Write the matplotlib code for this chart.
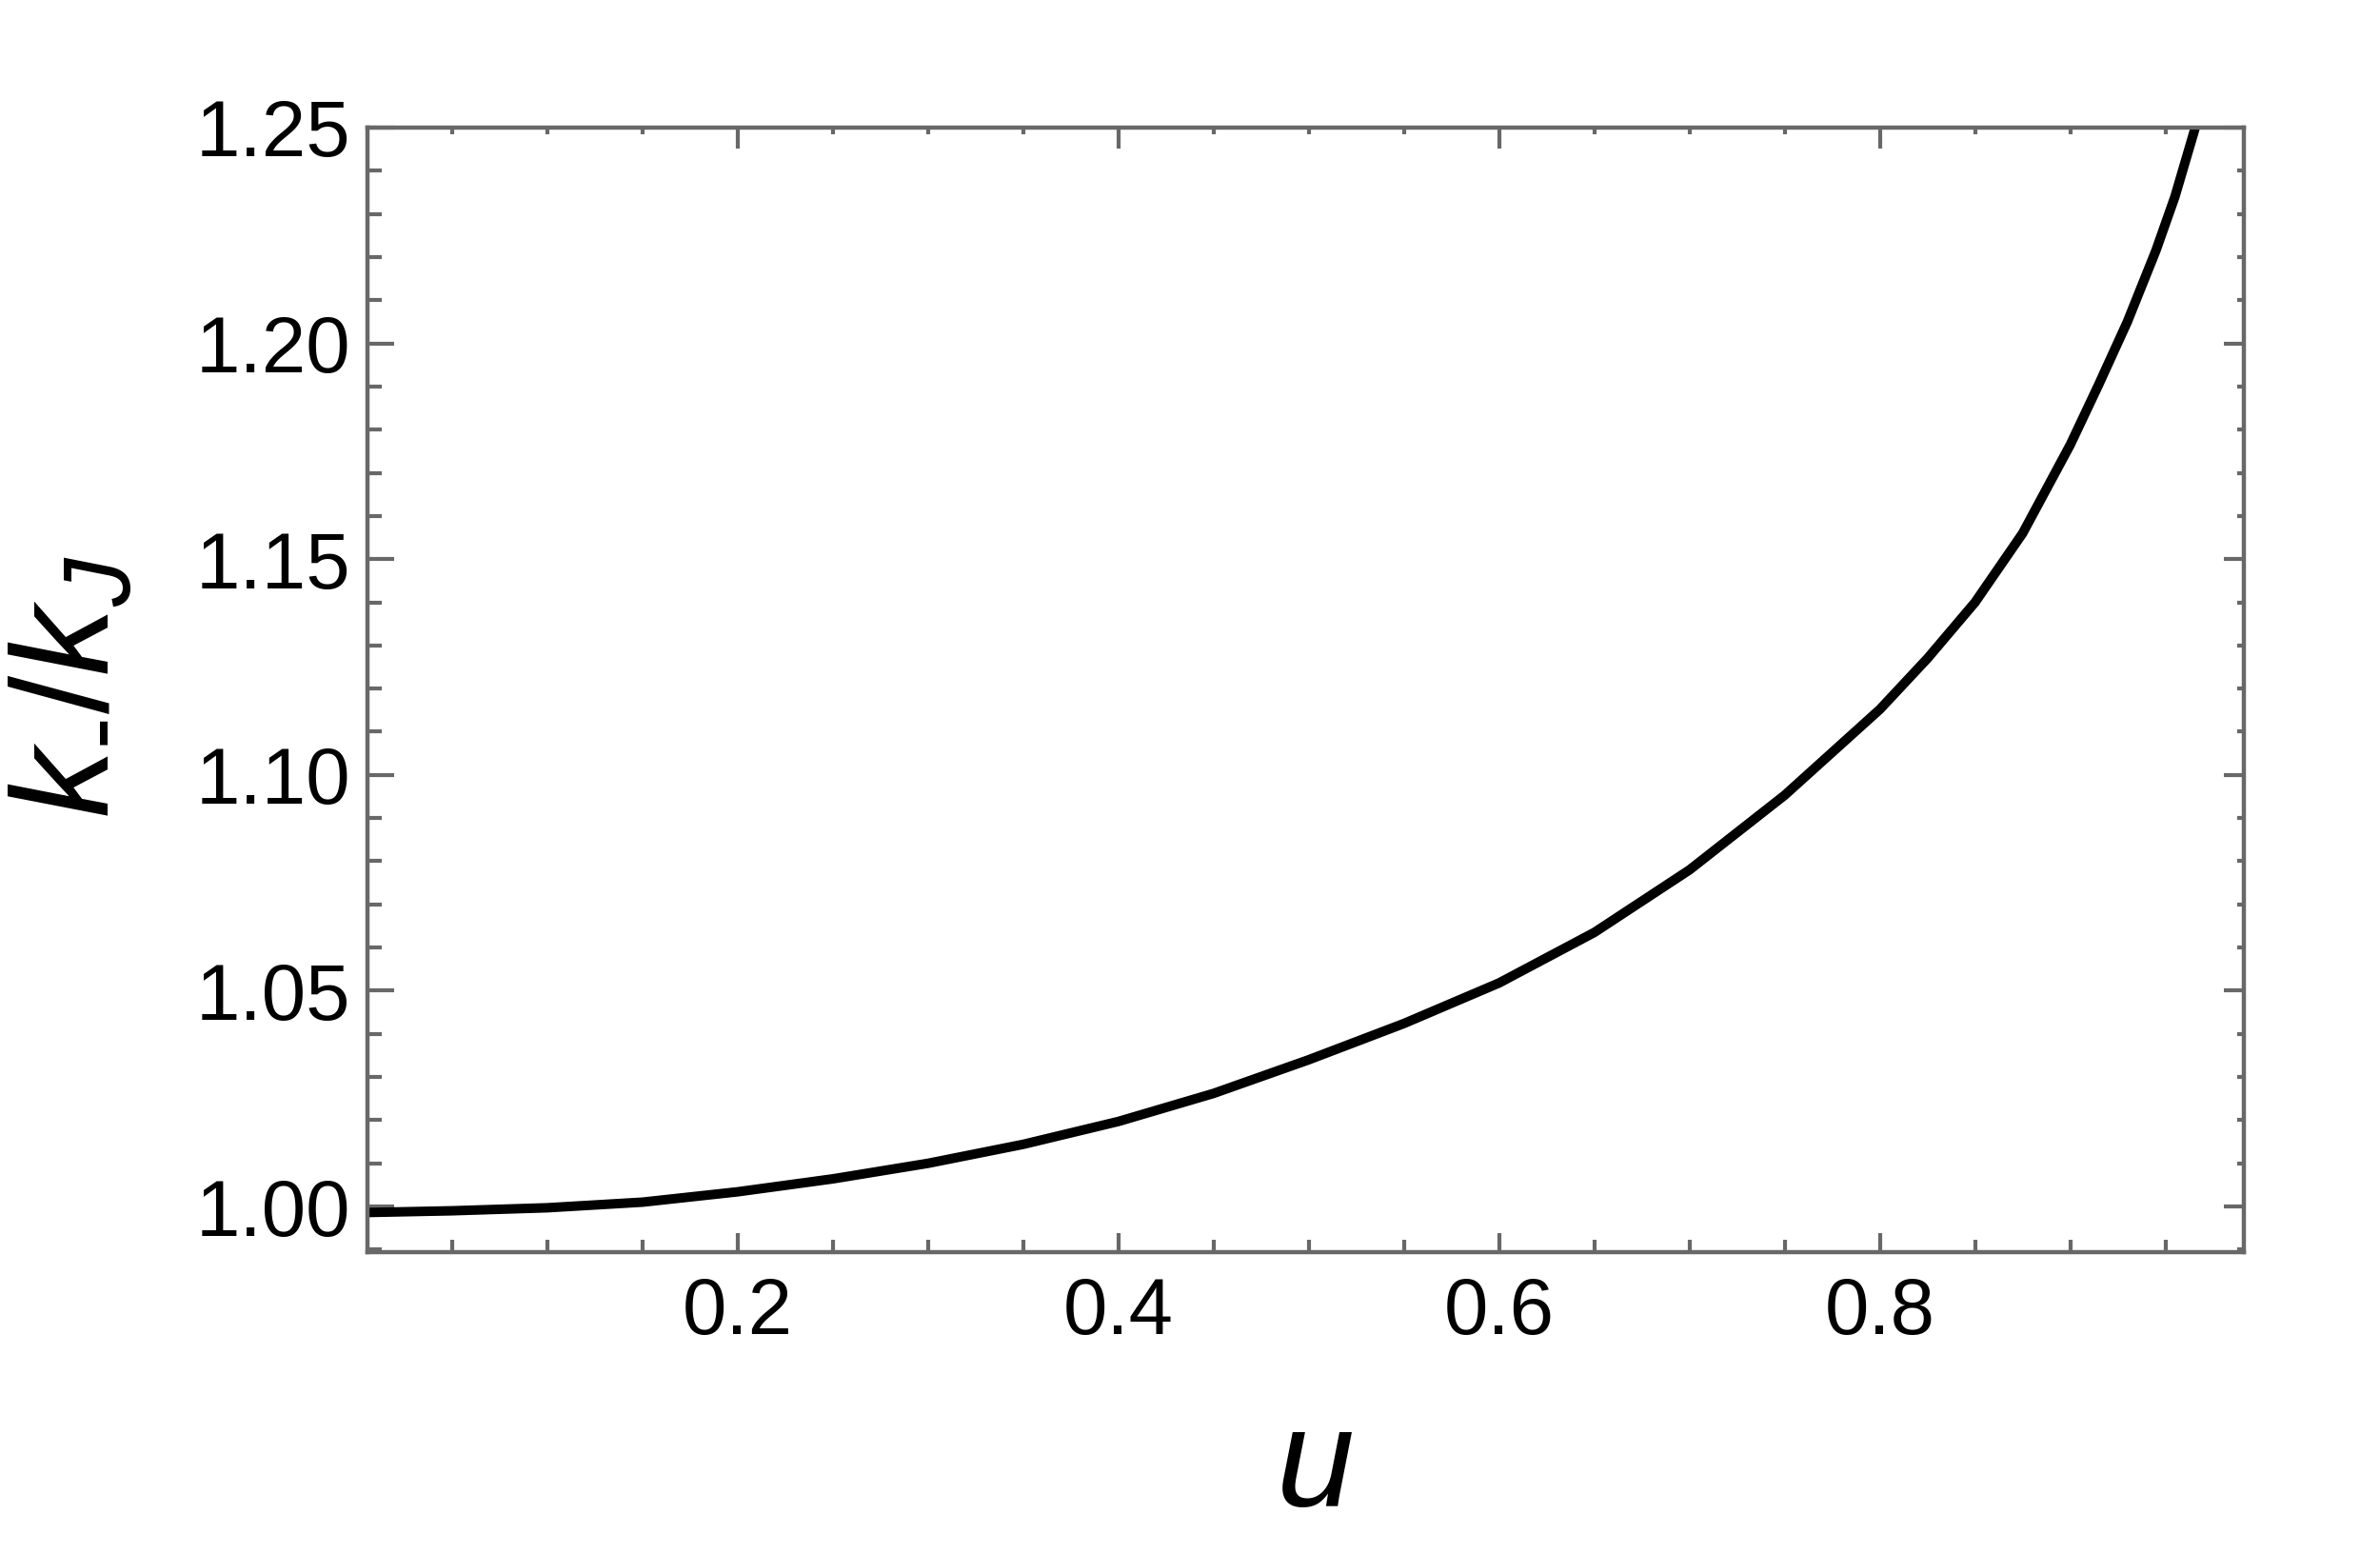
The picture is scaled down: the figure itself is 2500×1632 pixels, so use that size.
import matplotlib
matplotlib.use("Agg")
import matplotlib.pyplot as plt
from matplotlib.ticker import MultipleLocator, NullFormatter

# ---- data ----
u_vals = [0.0055, 0.05, 0.10, 0.15, 0.20, 0.25, 0.30, 0.35, 0.40, 0.45, 0.50,
          0.55, 0.60, 0.65, 0.70, 0.75, 0.80, 0.825, 0.85, 0.875, 0.90, 0.915,
          0.93, 0.945, 0.955, 0.965]
k_ratio = [0.9986, 0.9990, 0.9997, 1.0010, 1.0034, 1.0064, 1.0100, 1.0144, 1.0197,
           1.0262, 1.0340, 1.0424, 1.0518, 1.0635, 1.0780, 1.0953, 1.1152, 1.1270,
           1.1400, 1.1560, 1.1765, 1.1905, 1.2050, 1.2215, 1.2340, 1.2490]
x_major = [0.2, 0.4, 0.6, 0.8]
y_major = [1.00, 1.05, 1.10, 1.15, 1.20, 1.25]
y_labels = ["1.00", "1.05", "1.10", "1.15", "1.20", "1.25"]
x_labels = ["0.2", "0.4", "0.6", "0.8"]
xlabel = "$u$"
ylabel = r"$k_{\text{-}}/k_{J}$"

plt.rcParams["font.family"] = ["Liberation Sans", "DejaVu Sans"]
plt.rcParams["mathtext.fontset"] = "custom"
plt.rcParams["mathtext.it"] = "Liberation Sans:italic"
plt.rcParams["mathtext.rm"] = "Liberation Sans"
plt.rcParams["mathtext.sf"] = "Liberation Sans"

SPINE = "#686868"

fig = plt.figure(figsize=(25, 16.32), dpi=100)
ax = fig.add_axes([0.1544, 0.1942, 0.7884, 0.7237])

ax.plot(u_vals, k_ratio, color="black", lw=7.2, solid_joinstyle="round")

ax.set_xlim(0.0055, 0.9912)
ax.set_ylim(0.9894, 1.25)

for s in ax.spines.values():
    s.set_color(SPINE)
    s.set_linewidth(3.2)

ax.set_xticks(x_major)
ax.set_xticklabels(x_labels)
ax.xaxis.set_minor_locator(MultipleLocator(0.05))
ax.set_yticks(y_major)
ax.set_yticklabels(y_labels)
ax.yaxis.set_minor_locator(MultipleLocator(0.01))

ax.tick_params(axis="both", which="both", direction="in", color=SPINE, width=3.0,
               labelsize=60, labelcolor="black", top=False, right=False)
ax.tick_params(axis="y", which="major", length=20.2, pad=13)
ax.tick_params(axis="y", which="minor", length=10.8)
ax.tick_params(axis="x", which="major", length=14.4, pad=18)
ax.tick_params(axis="x", which="minor", length=9.6)

# mirrored ticks (shorter) on top and right
secx = ax.secondary_xaxis("top", functions=(lambda v: v, lambda v: v))
secx.set_xticks(x_major)
secx.xaxis.set_minor_locator(MultipleLocator(0.05))
secx.tick_params(axis="x", which="both", direction="in", color=SPINE, width=3.0,
                 labeltop=False)
secx.tick_params(axis="x", which="major", length=15.6)
secx.tick_params(axis="x", which="minor", length=4.8)
secx.xaxis.set_major_formatter(NullFormatter())
for s in secx.spines.values():
    s.set_visible(False)

secy = ax.secondary_yaxis("right", functions=(lambda v: v, lambda v: v))
secy.set_yticks(y_major)
secy.yaxis.set_minor_locator(MultipleLocator(0.01))
secy.tick_params(axis="y", which="both", direction="in", color=SPINE, width=3.0,
                 labelright=False)
secy.tick_params(axis="y", which="major", length=15.4)
secy.tick_params(axis="y", which="minor", length=5.3)
secy.yaxis.set_major_formatter(NullFormatter())
for s in secy.spines.values():
    s.set_visible(False)

fig.text(0.552, 0.0306, xlabel, fontsize=106, ha="center", va="baseline")
fig.text(0.031, 0.558, ylabel, fontsize=104, rotation=90, ha="center", va="center")

fig.savefig("out.png", dpi=100, facecolor="white")
